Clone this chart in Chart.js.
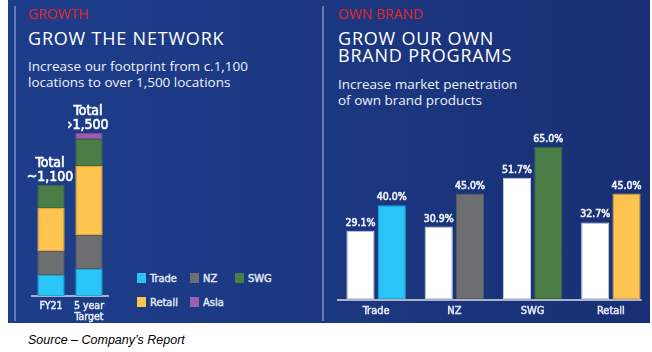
<!DOCTYPE html>
<html>
<head>
<meta charset="utf-8">
<script src="https://cdn.jsdelivr.net/npm/chart.js@4.4.0/dist/chart.umd.min.js"></script>
<style>
  body { margin:0; width:652px; height:352px; background:#fff; position:relative; overflow:hidden; font-family:"Open Sans", sans-serif; }
  #panel { position:absolute; left:8px; top:0; width:642px; height:323px; background:linear-gradient(90deg,#1d3d8a 0%,#1b3780 55%,#182f74 100%); }
  .vline { position:absolute; top:6px; width:2px; height:315px; background:rgba(190,200,230,0.45); }
  .txt { position:absolute; white-space:nowrap; color:#fff; }
  .kicker { font-size:14px; line-height:14px; color:#e3262a; }
  .head { font-size:18px; line-height:17px; letter-spacing:0.8px; }
  .sub { font-size:13.5px; line-height:16px; color:#eef1f8; }
  canvas { position:absolute; }
  #legend { position:absolute; left:137px; top:272px; display:grid; grid-template-columns:53px 45px auto; row-gap:11px;
            font-family:"DejaVu Sans Condensed", sans-serif; font-size:11px; color:#e6eaf4; -webkit-text-stroke:0.4px #e6eaf4; }
  #legend span.box { display:inline-block; width:9px; height:10px; margin-right:4px; vertical-align:-1px; }
  #source { position:absolute; left:28px; top:333px; font-family:"Liberation Sans", sans-serif; font-style:italic; font-size:12.5px; color:#000; }
</style>
</head>
<body>
<div id="panel"></div>
<div class="vline" style="left:14px"></div>
<div class="vline" style="left:322px"></div>

<div class="txt kicker" style="left:28px;top:7px">GROWTH</div>
<div class="txt head" style="left:28px;top:30px">GROW THE NETWORK</div>
<div class="txt sub" style="left:28px;top:58px">Increase our footprint from c.1,100<br>locations to over 1,500 locations</div>

<div class="txt kicker" style="left:338px;top:7px">OWN BRAND</div>
<div class="txt head" style="left:338px;top:30px">GROW OUR OWN<br>BRAND PROGRAMS</div>
<div class="txt sub" style="left:338px;top:76px">Increase market penetration<br>of own brand products</div>

<canvas id="growth" width="110" height="232" style="left:20px;top:95px"></canvas>
<div id="legend"></div>
<canvas id="brand" width="322" height="202" style="left:330px;top:120px"></canvas>

<div id="source">Source – Company’s Report</div>

<script>
// store network, number of locations
const growthLabels = ['FY21', ['5 year', 'Target']];
const growthTotals = ['~1,100', '›1,500'];
const growthTrade  = [210, 270];
const growthNZ     = [240, 340];
const growthRetail = [430, 690];
const growthSWG    = [230, 270];
const growthAsia   = [0, 60];

// own brand penetration, %
const brandLabels = ['Trade', 'NZ', 'SWG', 'Retail'];
const brandNow    = [29.1, 30.9, 51.7, 32.7];
const brandTarget = [40.0, 45.0, 65.0, 45.0];

const colours = { Trade:'#29c5f6', NZ:'#6d6e70', SWG:'#4b7d46', Retail:'#fec44f', Asia:'#9a5fb0' };
const darker  = { Trade:'#1fa6d4', NZ:'#5a5b5e', SWG:'#3d6a39', Retail:'#e0a93a', Asia:'#80479a' };
const labelFont = '"DejaVu Sans Condensed", sans-serif';
const labelColour = '#e6eaf4';

// a bit of stroke so the condensed font looks medium weight
function heavyText(c, s, x, y, colour) {
  c.fillStyle = colour; c.strokeStyle = colour; c.lineWidth = 0.6;
  c.fillText(s, x, y); c.strokeText(s, x, y);
}

// ---- left: stacked bars
const growthSets = [
  ['Trade', growthTrade], ['NZ', growthNZ], ['Retail', growthRetail], ['SWG', growthSWG], ['Asia', growthAsia]
].map(([name, vals]) => ({
  label: name, data: vals,
  backgroundColor: colours[name], borderColor: darker[name], borderWidth: 1, borderSkipped: false
}));

const totalsPlugin = {
  id: 'totals',
  afterDatasetsDraw(chart) {
    const c = chart.ctx;
    c.save();
    c.font = '14px ' + labelFont;
    c.textAlign = 'center';
    c.textBaseline = 'alphabetic';
    growthTotals.forEach((t, i) => {
      let top = Infinity, x = 0;
      chart.data.datasets.forEach((ds, d) => {
        if (!ds.data[i]) return;
        const el = chart.getDatasetMeta(d).data[i];
        if (el.y < top) { top = el.y; x = el.x; }
      });
      heavyText(c, t, x - 1, top - 4, '#ffffff');
      heavyText(c, 'Total', x - 1, top - 18, '#ffffff');
    });
    c.restore();
  }
};

new Chart(document.getElementById('growth'), {
  type: 'bar',
  data: { labels: growthLabels, datasets: growthSets },
  options: {
    responsive: false, animation: false,
    layout: { padding: { left: 12, right: 22, top: 21, bottom: 0 } },
    plugins: { legend: { display: false }, tooltip: { enabled: false } },
    scales: {
      x: {
        stacked: true, categoryPercentage: 1, barPercentage: 0.58,
        grid: { display: false, drawTicks: false },
        border: { display: true, color: '#a9b2c9', width: 2 },
        ticks: { color: labelColour, font: { family: labelFont, size: 10.5, lineHeight: 1.05 }, padding: 5, maxRotation: 0,
                 textStrokeColor: labelColour, textStrokeWidth: 0.5 },
        afterFit: s => { s.height = 31; }
      },
      y: { stacked: true, display: false, min: 0, max: 1800 }
    }
  },
  plugins: [totalsPlugin]
});

// legend, Trade NZ SWG / Retail Asia
['Trade', 'NZ', 'SWG', 'Retail', 'Asia'].forEach(name => {
  const item = document.createElement('div');
  item.innerHTML = '<span class="box" style="background:' + colours[name] + '"></span>' + name;
  document.getElementById('legend').appendChild(item);
});

// ---- right: grouped bars
const valuePlugin = {
  id: 'values',
  afterDatasetsDraw(chart) {
    const c = chart.ctx;
    c.save();
    c.font = '10.5px ' + labelFont;
    c.textAlign = 'center';
    c.textBaseline = 'alphabetic';
    chart.data.datasets.forEach((ds, d) => {
      chart.getDatasetMeta(d).data.forEach((el, i) => {
        heavyText(c, ds.data[i].toFixed(1) + '%', el.x, el.y - 5, '#eef1f8');
      });
    });
    // base line, ends just after the last bar
    const meta = chart.getDatasetMeta(chart.data.datasets.length - 1);
    const last = meta.data[meta.data.length - 1];
    c.strokeStyle = '#a9b2c9';
    c.lineWidth = 2;
    c.beginPath();
    c.moveTo(chart.chartArea.left, chart.chartArea.bottom + 1);
    c.lineTo(last.x + last.width / 2 + 1, chart.chartArea.bottom + 1);
    c.stroke();
    c.restore();
  }
};

new Chart(document.getElementById('brand'), {
  type: 'bar',
  data: {
    labels: brandLabels,
    datasets: [
      { label: 'Current', data: brandNow, backgroundColor: '#ffffff', borderColor: '#c9d1e4', borderWidth: 1, borderSkipped: false },
      { label: 'Target', data: brandTarget,
        backgroundColor: brandLabels.map(n => colours[n]), borderColor: brandLabels.map(n => darker[n]), borderWidth: 1, borderSkipped: false }
    ]
  },
  options: {
    responsive: false, animation: false,
    layout: { padding: { left: 7, right: 2, top: 15, bottom: 0 } },
    plugins: { legend: { display: false }, tooltip: { enabled: false } },
    scales: {
      x: {
        categoryPercentage: 0.72, barPercentage: 0.785,
        grid: { display: false, drawTicks: false },
        border: { display: false },
        ticks: { color: labelColour, font: { family: labelFont, size: 11 }, padding: 6,
                 textStrokeColor: labelColour, textStrokeWidth: 0.5 },
        afterFit: s => { s.height = 23; }
      },
      y: { display: false, min: 0, max: 70 }
    }
  },
  plugins: [valuePlugin]
});
</script>
</body>
</html>
